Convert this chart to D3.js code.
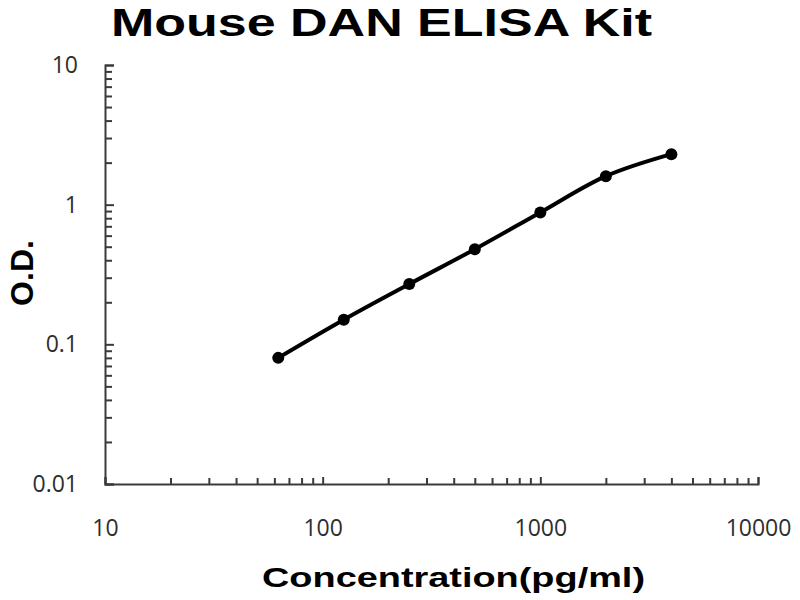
<!DOCTYPE html>
<html>
  <head>
    <meta charset="utf-8">
    <script src="https://d3js.org/d3.v7.min.js"></script>
    <style>
      body { margin: 0; background: #fff; }
    </style>
  </head>
  <body>
    <div id="chart"></div>
    <script type="text/javascript">
    // standard curve readings
    var concentration = [62.5, 125, 250, 500, 1000, 2000, 4000];
    var od = [0.08, 0.15, 0.27, 0.48, 0.88, 1.6, 2.3];

    // axis ticks
    var xTicks = [10, 100, 1000, 10000];
    var xTickLabels = ["10", "100", "1000", "10000"];
    var yTicks = [0.01, 0.1, 1, 10];
    var yTickLabels = ["0.01", "0.1", "1", "10"];

    var titleText = "Mouse DAN ELISA Kit";
    var xTitle = "Concentration(pg/ml)";
    var yTitle = "O.D.";

    var W = 800, H = 600;
    var margin = {left: 105, top: 65, right: 42, bottom: 116};
    var width = W - margin.left - margin.right,
        height = H - margin.top - margin.bottom;

    var svg = d3.select("#chart")
      .append("svg")
      .attr("width", W)
      .attr("height", H);

    var g = svg.append("g")
      .attr("transform", "translate(" + margin.left + "," + margin.top + ")");

    var x = d3.scaleLog().domain([10, 10000]).range([0, width]);
    var y = d3.scaleLog().domain([0.01, 10]).range([height, 0]);

    // minor ticks 2..9 in each decade
    function minors(lo, hi) {
      var out = [];
      for (var d = lo; d < hi; d *= 10) {
        for (var k = 2; k <= 9; k++) out.push(d * k);
      }
      return out;
    }

    var axisColor = "#3a3a3a";

    //x axis
    var xMinor = g.append("g")
      .attr("transform", "translate(0," + height + ")")
      .call(d3.axisBottom(x).tickValues(minors(10, 10000)).tickSize(-6).tickFormat(""));
    xMinor.select(".domain").remove();

    var xAxis = g.append("g")
      .attr("transform", "translate(0," + height + ")")
      .call(d3.axisBottom(x).tickValues(xTicks).tickSize(-7).tickPadding(36)
        .tickFormat(function(d, i) { return xTickLabels[i]; }));

    //y axis
    var yMinor = g.append("g")
      .call(d3.axisLeft(y).tickValues(minors(0.01, 10)).tickSize(-7).tickFormat(""));
    yMinor.select(".domain").remove();

    var yAxis = g.append("g")
      .call(d3.axisLeft(y).tickValues(yTicks).tickSize(-9).tickPadding(27)
        .tickFormat(function(d, i) { return yTickLabels[i]; }));

    g.selectAll(".domain").attr("stroke", axisColor).attr("stroke-width", 2);
    g.selectAll(".tick line").attr("stroke", axisColor).attr("stroke-width", 2);
    g.selectAll(".tick text")
      .style("font-family", "'Open Sans', sans-serif")
      .style("font-size", "23px")
      .attr("fill", "#2e2e2e");

    // fitted curve and points
    var pts = concentration.map(function(c, i) { return [c, od[i]]; });

    var line = d3.line()
      .x(function(d) { return x(d[0]); })
      .y(function(d) { return y(d[1]); })
      .curve(d3.curveCatmullRom.alpha(0.5));

    g.append("path")
      .datum(pts)
      .attr("fill", "none")
      .attr("stroke", "#000")
      .attr("stroke-width", 4)
      .attr("stroke-linecap", "round")
      .attr("d", line);

    g.selectAll("circle.pt")
      .data(pts)
      .enter().append("circle")
      .attr("class", "pt")
      .attr("cx", function(d) { return x(d[0]); })
      .attr("cy", function(d) { return y(d[1]); })
      .attr("r", 6)
      .attr("fill", "#000");

    // titles
    svg.append("text")
      .attr("x", 111)
      .attr("y", 35.5)
      .attr("textLength", 541)
      .attr("lengthAdjust", "spacingAndGlyphs")
      .style("font-family", "'Liberation Sans', Arial, sans-serif")
      .style("font-weight", "bold")
      .style("font-size", "39px")
      .text(titleText);

    svg.append("text")
      .attr("x", 262)
      .attr("y", 587)
      .attr("textLength", 383)
      .attr("lengthAdjust", "spacingAndGlyphs")
      .style("font-family", "'Liberation Sans', Arial, sans-serif")
      .style("font-weight", "bold")
      .style("font-size", "28px")
      .text(xTitle);

    svg.append("text")
      .attr("transform", "translate(33,273) rotate(-90)")
      .style("text-anchor", "middle")
      .style("font-family", "'Liberation Sans', Arial, sans-serif")
      .style("font-weight", "bold")
      .style("font-size", "32px")
      .text(yTitle);
    </script>
  </body>
</html>
